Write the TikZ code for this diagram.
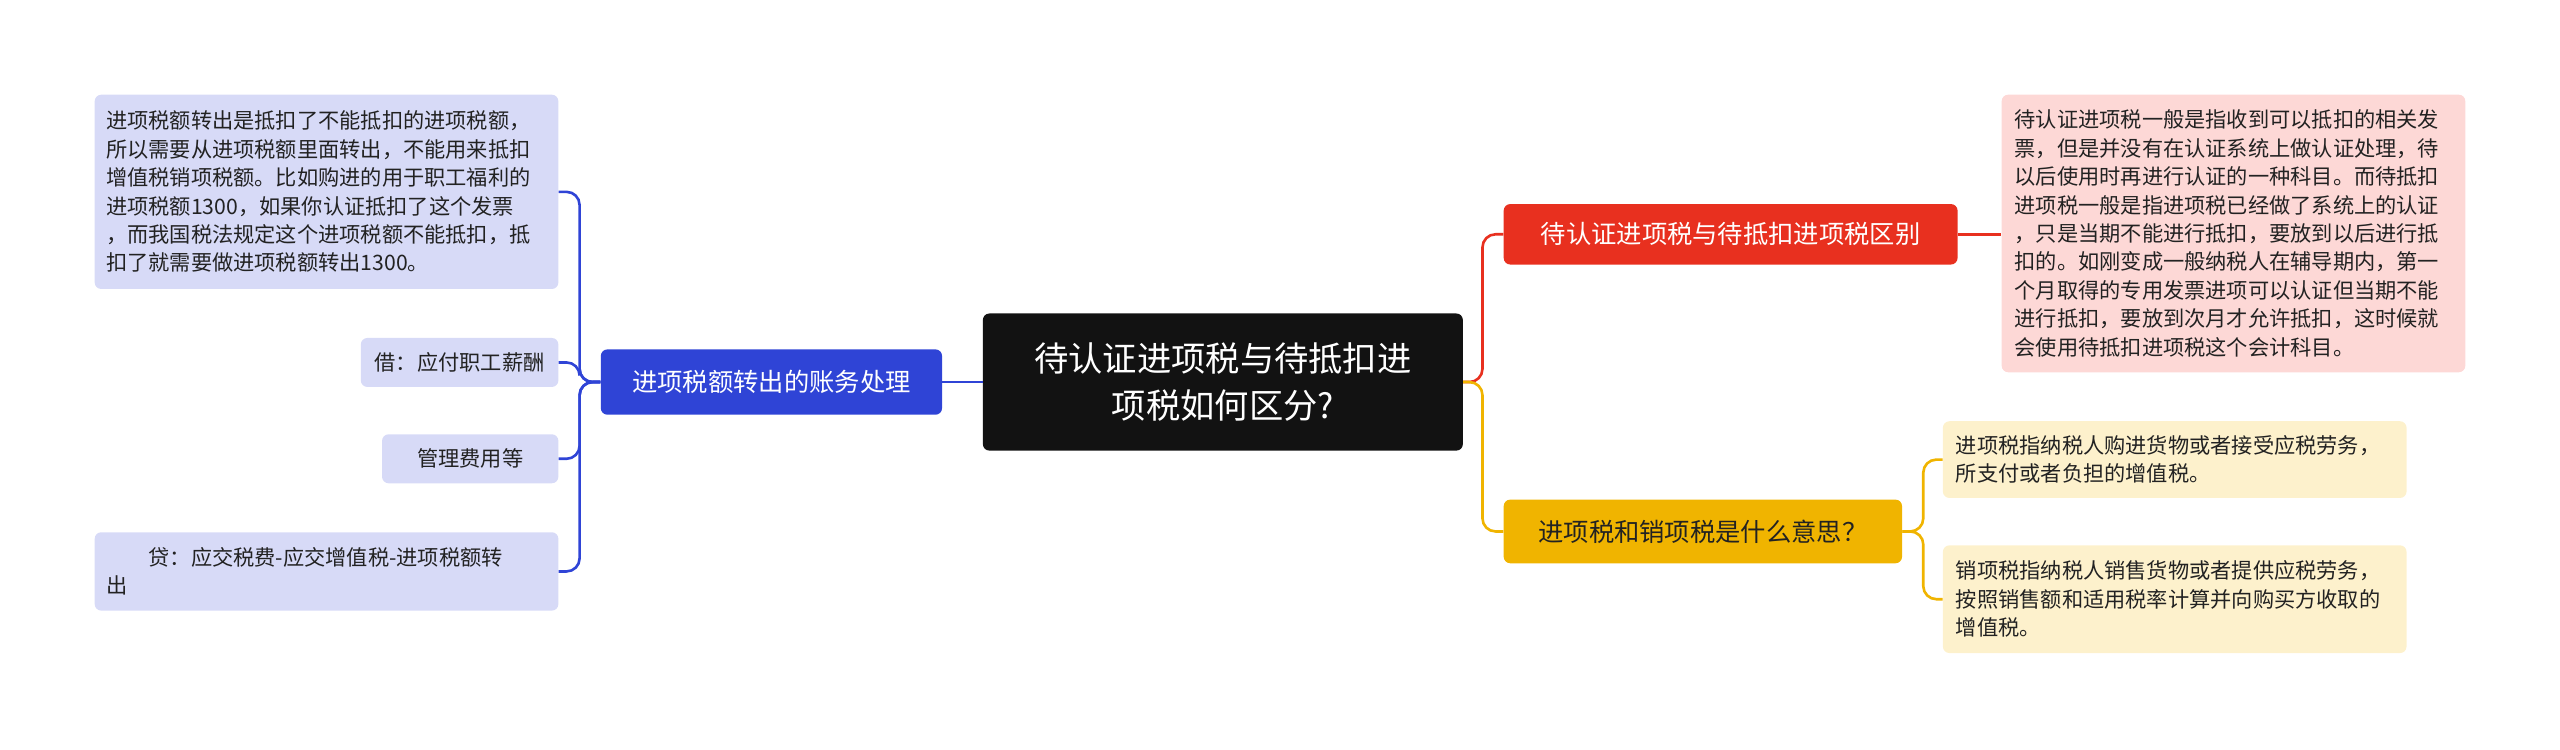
\documentclass[tikz,border=0pt]{standalone}
\usepackage{fontspec}
\setmainfont{Noto Sans CJK SC}
\definecolor{cblue}{HTML}{2F44D6}
\definecolor{cred}{HTML}{E8301F}
\definecolor{cyel}{HTML}{F0B400}
\definecolor{lblue}{HTML}{D7DAF7}
\definecolor{lred}{HTML}{FDD8D6}
\definecolor{lyel}{HTML}{FDF1CC}
\definecolor{tdark}{HTML}{222222}
\begin{document}
\begin{tikzpicture}[x=1pt,y=-1pt,
  box/.style={rounded corners=4pt,inner sep=0pt,align=left,text=tdark},
  leaf/.style={box,font=\fontsize{13}{17.4}\selectfont},
  br/.style={rounded corners=4pt,inner sep=0pt,align=center,font=\fontsize{15.5}{19}\selectfont},
  lnk/.style={line width=1.6pt,rounded corners=8pt}]
\useasboundingbox (0,0) rectangle (1568,459);
\node[box,fill=black!93,text=white,minimum width=294,minimum height=84,align=center,font=\fontsize{21}{29}\selectfont] (c) at (749,234) {待认证进项税与待抵扣进\\项税如何区分?};
\node[br,fill=cred,text=white,minimum width=278,minimum height=37] (r) at (1060,143.5) {待认证进项税与待抵扣进项税区别};
\node[leaf,fill=lred,minimum width=284,minimum height=170,text width=268] (rl) at (1368,143) {待认证进项税一般是指收到可以抵扣的相关发\\票，但是并没有在认证系统上做认证处理，待\\以后使用时再进行认证的一种科目。而待抵扣\\进项税一般是指进项税已经做了系统上的认证\\，只是当期不能进行抵扣，要放到以后进行抵\\扣的。如刚变成一般纳税人在辅导期内，第一\\个月取得的专用发票进项可以认证但当期不能\\进行抵扣，要放到次月才允许抵扣，这时候就\\会使用待抵扣进项税这个会计科目。};
\node[br,fill=cyel,text=tdark,minimum width=244,minimum height=39] (y) at (1043,325.5) {进项税和销项税是什么意思？};
\node[leaf,fill=lyel,minimum width=284,minimum height=47,text width=268] (y1) at (1332,281.5) {进项税指纳税人购进货物或者接受应税劳务，\\所支付或者负担的增值税。};
\node[leaf,fill=lyel,minimum width=284,minimum height=66,text width=268] (y2) at (1332,367) {销项税指纳税人销售货物或者提供应税劳务，\\按照销售额和适用税率计算并向购买方收取的\\增值税。};
\node[br,fill=cblue,text=white,minimum width=209,minimum height=40] (b) at (472.5,234) {进项税额转出的账务处理};
\node[leaf,fill=lblue,minimum width=284,minimum height=119,text width=270] (b1) at (200,117.5) {进项税额转出是抵扣了不能抵扣的进项税额，\\所以需要从进项税额里面转出，不能用来抵扣\\增值税销项税额。比如购进的用于职工福利的\\进项税额1300，如果你认证抵扣了这个发票\\，而我国税法规定这个进项税额不能抵扣，抵\\扣了就需要做进项税额转出1300。};
\node[leaf,fill=lblue,minimum width=121,minimum height=30,align=center] (b2) at (281.5,222) {借：应付职工薪酬};
\node[leaf,fill=lblue,minimum width=108,minimum height=30,align=center] (b3) at (288,281) {管理费用等};
\node[leaf,fill=lblue,minimum width=284,minimum height=48,text width=270] (b4) at (200,350) {\hspace*{26pt}贷：应交税费-应交增值税-进项税额转\\出};
\draw[lnk,cblue] (c.west) -- (b.east);
\foreach \t in {b1,b2,b3,b4} \draw[lnk,cblue] (b.west) -- (355,234) |- (\t.east);
\draw[lnk,cred] (c.east) -- (908,234) |- (r.west);
\draw[lnk,cyel] (c.east) -- (908,234) |- (y.west);
\draw[lnk,cred] (r.east) -- (rl.west|-r.east);
\foreach \t in {y1,y2} \draw[lnk,cyel] (y.east) -- (1178,325.5) |- (\t.west);
\end{tikzpicture}
\end{document}
